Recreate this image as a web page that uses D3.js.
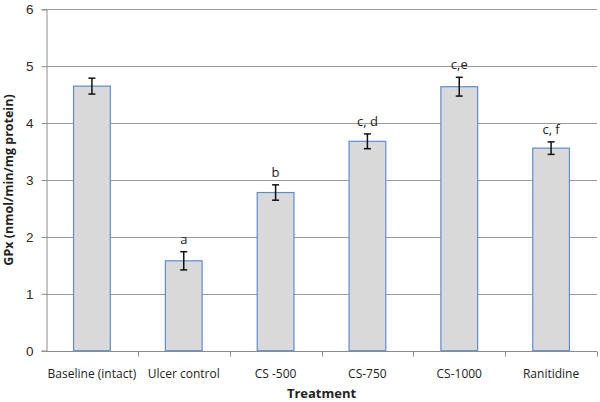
<!DOCTYPE html>
<html>
<head>
<meta charset="utf-8">
<script src="https://cdn.jsdelivr.net/npm/d3@7"></script>
<style>
  body { margin: 0; background: #fff; }
  svg { display: block; font-family: "Open Sans", "Liberation Sans", sans-serif; }
</style>
</head>
<body>
<svg id="chart" width="600" height="402"></svg>
<script>
const treatments = ['Baseline (intact)', 'Ulcer control', 'CS -500', 'CS-750', 'CS-1000', 'Ranitidine'];
const gpxMeans = [4.65, 1.58, 2.78, 3.68, 4.64, 3.56];
const gpxErrors = [0.14, 0.16, 0.135, 0.13, 0.165, 0.11];
const sigLabels = ['', 'a', 'b', 'c, d', 'c,e', 'c, f'];
const yTicks = [0, 1, 2, 3, 4, 5, 6];

const svg = d3.select('#chart');
const margin = { left: 46, right: 3, top: 9.3, bottom: 51.3 };
const width = 600, height = 402;

const x = d3.scaleBand()
  .domain(treatments)
  .range([margin.left, width - margin.right])
  .paddingInner(0.6)
  .paddingOuter(0.3);

const y = d3.scaleLinear()
  .domain([0, 6])
  .range([height - margin.bottom, margin.top]);

// gridlines
svg.append('g')
  .selectAll('line')
  .data(yTicks.filter(d => d > 0))
  .join('line')
  .attr('x1', margin.left)
  .attr('x2', width - margin.right)
  .attr('y1', d => Math.round(y(d)) + 0.5)
  .attr('y2', d => Math.round(y(d)) + 0.5)
  .attr('stroke', '#9a9a9a')
  .attr('stroke-width', 1);

// y axis
const yAxis = svg.append('g')
  .attr('transform', `translate(${margin.left + 0.5},0)`)
  .call(d3.axisLeft(y).tickValues(yTicks).tickSize(5).tickPadding(8).tickFormat(d3.format('d')));
yAxis.select('.domain').attr('stroke', '#8c8c8c');
yAxis.selectAll('.tick line').attr('stroke', '#8c8c8c');
yAxis.selectAll('text').attr('font-size', 13.5).attr('fill', '#2a2a2a');

// bars
svg.append('g')
  .selectAll('rect')
  .data(treatments)
  .join('rect')
  .attr('x', d => x(d))
  .attr('width', x.bandwidth())
  .attr('y', (d, i) => y(gpxMeans[i]))
  .attr('height', (d, i) => y(0) - y(gpxMeans[i]))
  .attr('fill', '#d9d9d9')
  .attr('stroke', '#5b8dd3')
  .attr('stroke-width', 1.2);

// x axis
const xAxisY = Math.round(y(0)) + 0.5;
const xAxis = svg.append('g').attr('transform', `translate(0,${xAxisY})`);
xAxis.append('line')
  .attr('x1', margin.left).attr('x2', width - margin.right)
  .attr('stroke', '#8c8c8c');
const bounds = d3.range(treatments.length + 1).map(i => margin.left + i * (width - margin.left - margin.right) / treatments.length);
xAxis.selectAll('.tk')
  .data(bounds.slice(1))
  .join('line')
  .attr('class', 'tk')
  .attr('x1', d => Math.round(d) + 0.5).attr('x2', d => Math.round(d) + 0.5)
  .attr('y1', 0).attr('y2', 5)
  .attr('stroke', '#8c8c8c');
xAxis.selectAll('text')
  .data(treatments)
  .join('text')
  .attr('x', d => x(d) + x.bandwidth() / 2)
  .attr('y', 26)
  .attr('text-anchor', 'middle')
  .attr('font-size', 12)
  .attr('fill', '#222')
  .text(d => d);

// error bars
const errG = svg.append('g').attr('stroke', '#111').attr('stroke-width', 1.5);
treatments.forEach((t, i) => {
  const cx = x(t) + x.bandwidth() / 2;
  const top = y(gpxMeans[i] + gpxErrors[i]);
  const bot = y(gpxMeans[i] - gpxErrors[i]);
  errG.append('line').attr('x1', cx).attr('x2', cx).attr('y1', top).attr('y2', bot);
  errG.append('line').attr('x1', cx - 3.5).attr('x2', cx + 3.5).attr('y1', top).attr('y2', top);
  errG.append('line').attr('x1', cx - 3.5).attr('x2', cx + 3.5).attr('y1', bot).attr('y2', bot);
});

// significance letters
svg.append('g')
  .selectAll('text')
  .data(treatments)
  .join('text')
  .attr('x', d => x(d) + x.bandwidth() / 2)
  .attr('y', (d, i) => y(gpxMeans[i] + gpxErrors[i]) - 8)
  .attr('text-anchor', 'middle')
  .attr('font-size', 13)
  .attr('fill', '#222')
  .text((d, i) => sigLabels[i]);

// axis titles
svg.append('text')
  .attr('x', (margin.left + width - margin.right) / 2)
  .attr('y', 398)
  .attr('text-anchor', 'middle')
  .attr('font-size', 13)
  .attr('font-weight', 'bold')
  .attr('fill', '#222')
  .text('Treatment');

svg.append('text')
  .attr('transform', `translate(13,180) rotate(-90)`)
  .attr('text-anchor', 'middle')
  .attr('font-size', 12.5)
  .attr('font-weight', 'bold')
  .attr('fill', '#222')
  .text('GPx (nmol/min/mg protein)');
</script>
</body>
</html>
